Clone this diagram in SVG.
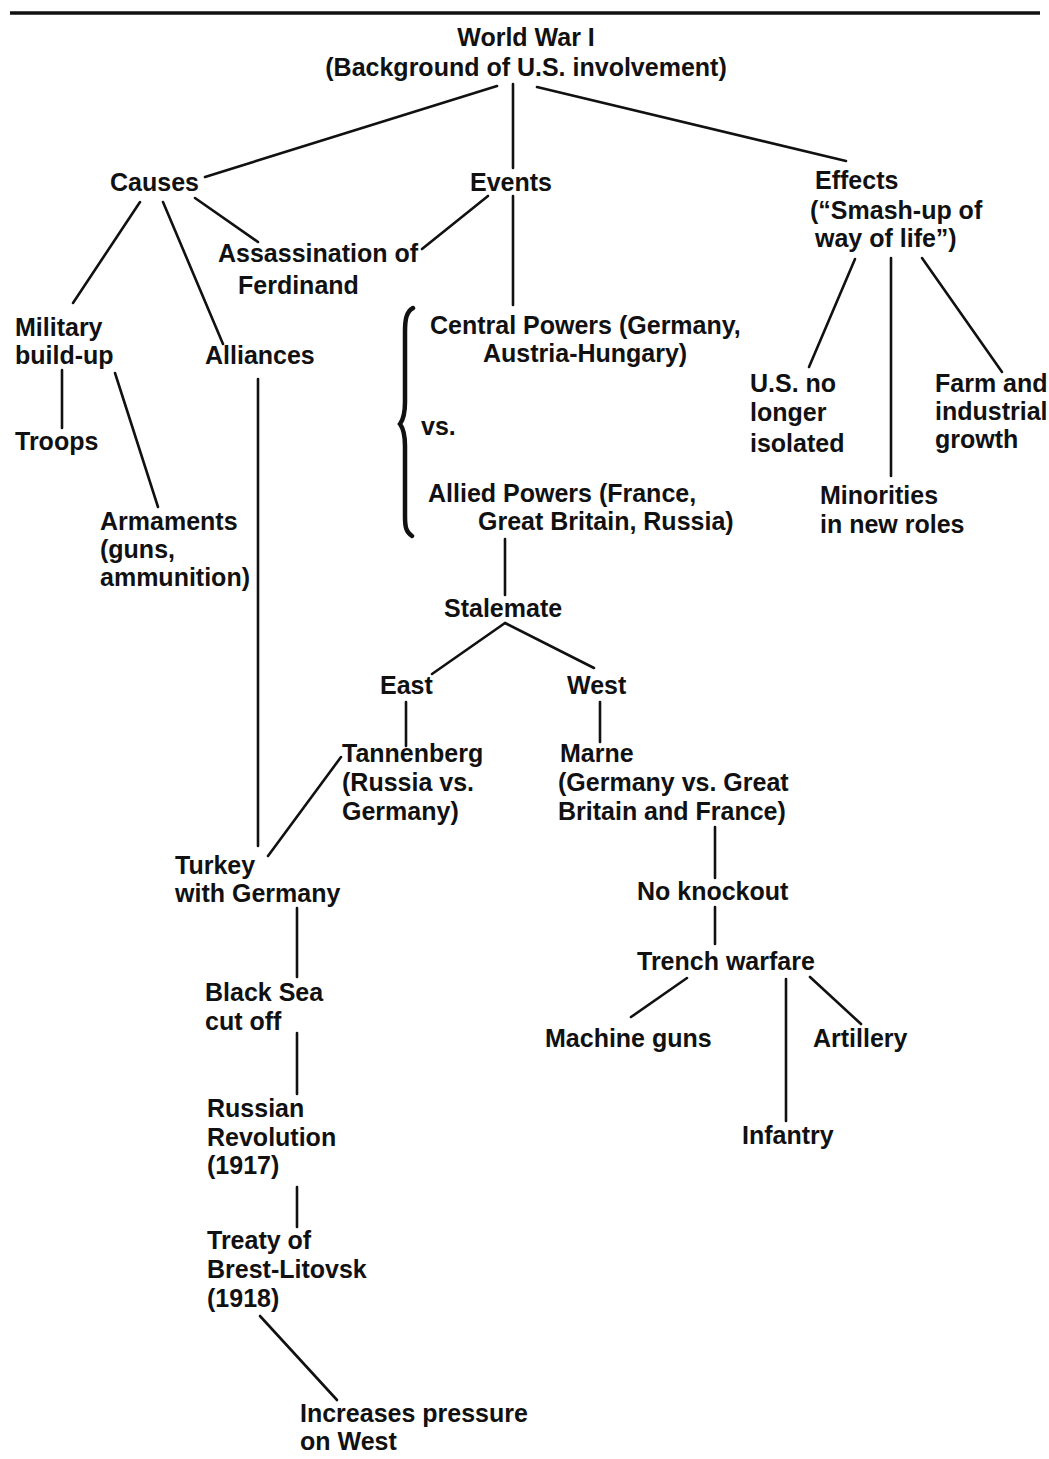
<svg xmlns="http://www.w3.org/2000/svg" width="1049" height="1459" viewBox="0 0 1049 1459">
<style>
text{font-family:"Liberation Sans",Arial,sans-serif;font-weight:bold;font-size:25px;fill:#111}
.c{text-anchor:middle}
.ln{stroke:#111;stroke-width:2.6;fill:none;stroke-linecap:round}
</style>
<rect width="1049" height="1459" fill="#fff"/>
<line x1="10" y1="13" x2="1040" y2="13" stroke="#111" stroke-width="3.5"/>
<g id="connectors">
<line class="ln" x1="497" y1="86" x2="205" y2="177"/>
<line class="ln" x1="513" y1="84" x2="513" y2="168"/>
<line class="ln" x1="537" y1="87" x2="846" y2="161"/>
<line class="ln" x1="140" y1="202" x2="73" y2="303"/>
<line class="ln" x1="163" y1="202" x2="223" y2="344"/>
<line class="ln" x1="195" y1="198" x2="258" y2="242"/>
<line class="ln" x1="488" y1="196" x2="422" y2="249"/>
<line class="ln" x1="513" y1="196" x2="513" y2="305"/>
<line class="ln" x1="855" y1="259" x2="809" y2="367"/>
<line class="ln" x1="891" y1="258" x2="891" y2="476"/>
<line class="ln" x1="922" y1="258" x2="1002" y2="372"/>
<line class="ln" x1="62" y1="370" x2="62" y2="428"/>
<line class="ln" x1="115" y1="373" x2="158" y2="507"/>
<line class="ln" x1="258" y1="379" x2="258" y2="846"/>
<line class="ln" x1="505" y1="539" x2="505" y2="595"/>
<line class="ln" x1="505" y1="623" x2="432" y2="674"/>
<line class="ln" x1="505" y1="623" x2="594" y2="668"/>
<line class="ln" x1="406" y1="702" x2="406" y2="746"/>
<line class="ln" x1="600" y1="702" x2="600" y2="742"/>
<line class="ln" x1="341" y1="757" x2="268" y2="856"/>
<line class="ln" x1="715" y1="827" x2="715" y2="878"/>
<line class="ln" x1="297" y1="908" x2="297" y2="977"/>
<line class="ln" x1="297" y1="1033" x2="297" y2="1094"/>
<line class="ln" x1="297" y1="1187" x2="297" y2="1227"/>
<line class="ln" x1="260" y1="1316" x2="337" y2="1400"/>
<line class="ln" x1="715" y1="907" x2="715" y2="944"/>
<line class="ln" x1="687" y1="978" x2="631" y2="1017"/>
<line class="ln" x1="786" y1="979" x2="786" y2="1121"/>
<line class="ln" x1="810" y1="977" x2="861" y2="1024"/>
</g>
<g id="brace">
<path d="M413,308 C406,312 405,320 405,332 L405,402 C405,414 403,420 400,424 C403,428 405,434 405,446 L405,516 C405,527 406,532 412,536" fill="none" stroke="#111" stroke-width="4.5" stroke-linecap="round"/>
</g>
<g id="title"><text class="c" x="526" y="46">World War I</text><text class="c" x="526" y="76">(Background of U.S. involvement)</text></g>
<g id="causes"><text x="110" y="191">Causes</text></g>
<g id="events"><text x="470" y="191">Events</text></g>
<g id="effects"><text x="815" y="189">Effects</text><text x="810" y="219">(“Smash-up of</text><text x="815" y="247">way of life”)</text></g>
<g id="assassination"><text x="218" y="262">Assassination of</text><text x="238" y="294">Ferdinand</text></g>
<g id="military"><text x="15" y="336">Military</text><text x="15" y="364">build-up</text></g>
<g id="alliances"><text x="205" y="364">Alliances</text></g>
<g id="troops"><text x="15" y="450">Troops</text></g>
<g id="armaments"><text x="100" y="530">Armaments</text><text x="100" y="558">(guns,</text><text x="100" y="586">ammunition)</text></g>
<g id="central"><text x="430" y="334">Central Powers (Germany,</text><text x="483" y="362">Austria-Hungary)</text></g>
<g id="vs"><text x="421" y="435">vs.</text></g>
<g id="allied"><text x="428" y="502">Allied Powers (France,</text><text x="478" y="530">Great Britain, Russia)</text></g>
<g id="usnolonger"><text x="750" y="392">U.S. no</text><text x="750" y="421">longer</text><text x="750" y="452">isolated</text></g>
<g id="farm"><text x="935" y="392">Farm and</text><text x="935" y="420">industrial</text><text x="935" y="448">growth</text></g>
<g id="minorities"><text x="820" y="504">Minorities</text><text x="820" y="533">in new roles</text></g>
<g id="stalemate"><text x="444" y="617">Stalemate</text></g>
<g id="east"><text x="380" y="694">East</text></g>
<g id="west"><text x="567" y="694">West</text></g>
<g id="tannenberg"><text x="342" y="762">Tannenberg</text><text x="342" y="791">(Russia vs.</text><text x="342" y="820">Germany)</text></g>
<g id="marne"><text x="560" y="762">Marne</text><text x="558" y="791">(Germany vs. Great</text><text x="558" y="820">Britain and France)</text></g>
<g id="turkey"><text x="175" y="874">Turkey</text><text x="175" y="902">with Germany</text></g>
<g id="noknockout"><text x="637" y="900">No knockout</text></g>
<g id="trench"><text x="637" y="970">Trench warfare</text></g>
<g id="blacksea"><text x="205" y="1001">Black Sea</text><text x="205" y="1030">cut off</text></g>
<g id="machineguns"><text x="545" y="1047">Machine guns</text></g>
<g id="artillery"><text x="813" y="1047">Artillery</text></g>
<g id="infantry"><text x="742" y="1144">Infantry</text></g>
<g id="revolution"><text x="207" y="1117">Russian</text><text x="207" y="1146">Revolution</text><text x="207" y="1174">(1917)</text></g>
<g id="treaty"><text x="207" y="1249">Treaty of</text><text x="207" y="1278">Brest-Litovsk</text><text x="207" y="1307">(1918)</text></g>
<g id="pressure"><text x="300" y="1422">Increases pressure</text><text x="300" y="1450">on West</text></g>
</svg>
